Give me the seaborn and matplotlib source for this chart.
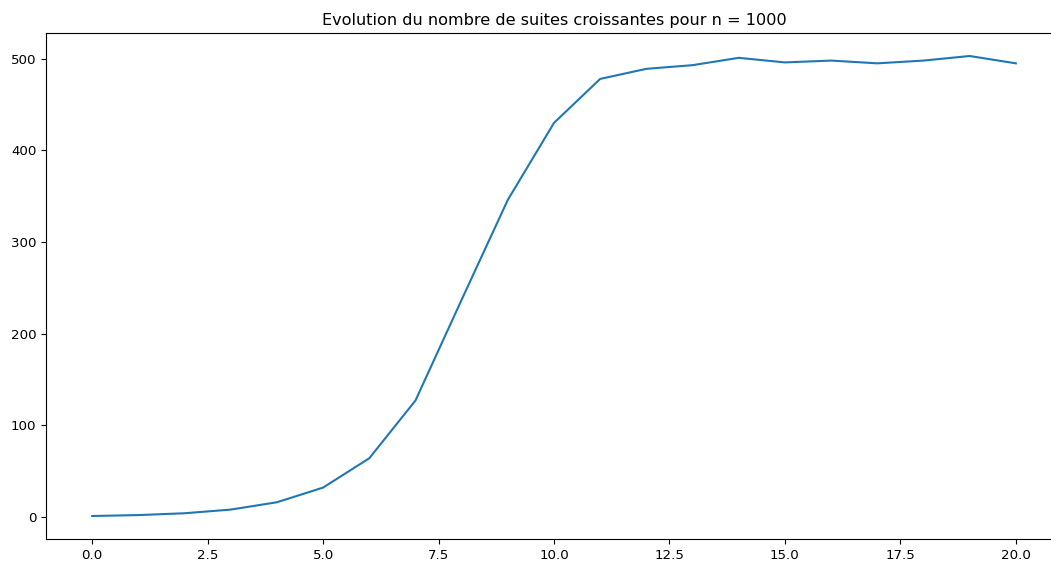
import matplotlib
matplotlib.use("Agg")
import matplotlib.pyplot as plt
import seaborn as sns
import pandas as pd

x_values = list(range(21))
counts = [1, 2, 4, 8, 16, 32, 64, 127, 237, 346, 430, 478, 489, 493, 501, 496, 498, 495, 498, 503, 495]
title = "Evolution du nombre de suites croissantes pour n = 1000"

df = pd.DataFrame({"x": x_values, "y": counts})

fig = plt.figure(figsize=(10.51, 5.61), dpi=100)
ax = fig.add_axes([46 / 1051, 1 - 539 / 561, (1062 - 46) / 1051, (539 - 33) / 561])
sns.lineplot(data=df, x="x", y="y", ax=ax, color="#1f77b4", linewidth=1.5)
ax.set_title(title, fontsize=11.6)
ax.tick_params(labelsize=9.6)
ax.set_xlabel("")
ax.set_ylabel("")
fig.savefig("out.png", dpi=100)
